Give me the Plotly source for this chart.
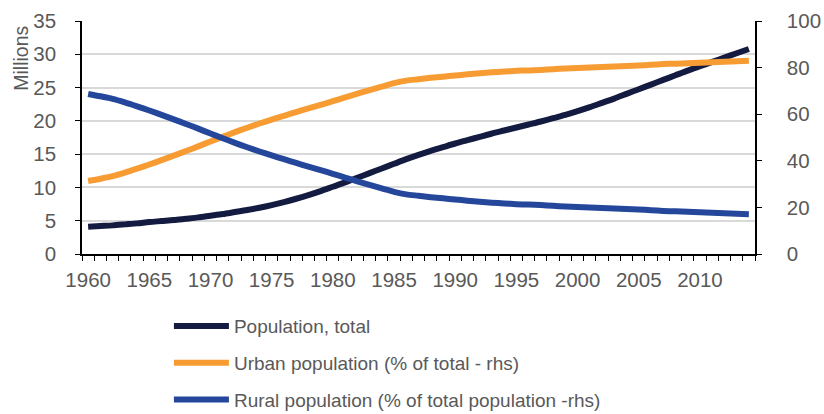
import plotly.graph_objects as go

# Saudi Arabia, 1960-2014
years = list(range(1960, 2015))

population_total_mn = [
    4.1, 4.2, 4.3, 4.45, 4.6, 4.8, 4.95, 5.1, 5.3, 5.5,
    5.75, 6.0, 6.3, 6.6, 6.95, 7.35, 7.8, 8.3, 8.85, 9.45,
    10.1, 10.75, 11.45, 12.15, 12.85, 13.55, 14.25, 14.9, 15.5, 16.05,
    16.6, 17.1, 17.6, 18.1, 18.55, 19.0, 19.45, 19.9, 20.4, 20.9,
    21.45, 22.05, 22.7, 23.35, 24.05, 24.75, 25.45, 26.15, 26.85, 27.55,
    28.2, 28.85, 29.5, 30.15, 30.8,
]

urban_pct = [
    31.3, 32.3, 33.4, 34.9, 36.6, 38.4, 40.3, 42.2, 44.2, 46.2,
    48.3, 50.3, 52.3, 54.2, 56.0, 57.7, 59.3, 60.9, 62.5, 64.0,
    65.6, 67.2, 68.8, 70.3, 71.8, 73.3, 74.4, 75.0, 75.6, 76.1,
    76.6, 77.1, 77.6, 78.0, 78.3, 78.6, 78.8, 79.0, 79.3, 79.6,
    79.8, 80.0, 80.3, 80.5, 80.7, 80.9, 81.2, 81.5, 81.7, 81.9,
    82.1, 82.3, 82.5, 82.7, 82.9,
]

rural_pct = [
    68.7, 67.7, 66.6, 65.1, 63.4, 61.6, 59.7, 57.8, 55.8, 53.8,
    51.7, 49.7, 47.7, 45.8, 44.0, 42.3, 40.7, 39.1, 37.5, 36.0,
    34.4, 32.8, 31.2, 29.7, 28.2, 26.7, 25.6, 25.0, 24.4, 23.9,
    23.4, 22.9, 22.4, 22.0, 21.7, 21.4, 21.2, 21.0, 20.7, 20.4,
    20.2, 20.0, 19.7, 19.5, 19.3, 19.1, 18.8, 18.5, 18.3, 18.1,
    17.9, 17.7, 17.5, 17.3, 17.1,
]

x_tick_years = list(range(1960, 2015, 5))
left_ticks = list(range(0, 36, 5))
right_ticks = list(range(0, 101, 20))

FONT = "Liberation Sans, Arial, sans-serif"
GREY = "#595959"
TICK_SIZE = 20.5
LW = 6

fig = go.Figure()
fig.add_trace(go.Scatter(
    x=years, y=population_total_mn, name="Population, total",
    mode="lines", line=dict(color="#131B40", width=LW, shape="spline", smoothing=0.8),
    legendgroup="a", yaxis="y",
))
fig.add_trace(go.Scatter(
    x=years, y=urban_pct, name="Urban population (% of total - rhs)",
    mode="lines", line=dict(color="#F79C33", width=LW, shape="spline", smoothing=0.8),
    legendgroup="b", yaxis="y2",
))
fig.add_trace(go.Scatter(
    x=years, y=rural_pct, name="Rural population (% of total population -rhs)",
    mode="lines", line=dict(color="#24479B", width=LW, shape="spline", smoothing=0.8),
    legendgroup="c", yaxis="y2",
))

fig.update_layout(
    width=824, height=414,
    margin=dict(l=82, r=69, t=21, b=160, autoexpand=False),
    paper_bgcolor="white", plot_bgcolor="white",
    font=dict(family=FONT, size=19, color=GREY),
    showlegend=True,
    legend=dict(
        xref="container", yref="container",
        x=0.205, y=0.258, xanchor="left", yanchor="top",
        font=dict(family=FONT, size=19, color=GREY),
        tracegroupgap=9, itemwidth=55,
        bgcolor="rgba(0,0,0,0)",
    ),
    xaxis=dict(
        range=[1959.5, 2014.5],
        tickmode="array", tickvals=x_tick_years, tickangle=0,
        ticks="", showgrid=False, zeroline=False,
        showline=True, linecolor="black", linewidth=1.5,
        ticklabelstandoff=7,
        tickfont=dict(family=FONT, size=TICK_SIZE, color=GREY),
        minor=dict(tickmode="linear", tick0=1959.5, dtick=1,
                   ticks="outside", ticklen=5, tickcolor="black",
                   tickwidth=1.3, showgrid=False),
    ),
    yaxis=dict(
        range=[0, 35], tickmode="array", tickvals=left_ticks,
        ticks="outside", ticklen=5, tickcolor="black", tickwidth=1.3,
        showline=True, linecolor="black", linewidth=1.5,
        showgrid=True, gridcolor="#D9D9D9", gridwidth=1.5,
        zeroline=False,
        ticklabelstandoff=15,
        tickfont=dict(family=FONT, size=TICK_SIZE, color=GREY),
    ),
    yaxis2=dict(
        range=[0, 100], tickmode="array", tickvals=right_ticks,
        overlaying="y", side="right",
        ticks="outside", ticklen=5, tickcolor="black", tickwidth=1.3,
        showline=True, linecolor="black", linewidth=1.5,
        showgrid=False, zeroline=False,
        ticklabelstandoff=21,
        tickfont=dict(family=FONT, size=TICK_SIZE, color=GREY),
    ),
    annotations=[dict(
        text="Millions", textangle=-90,
        xref="paper", yref="paper", x=-0.09, y=0.84,
        xanchor="center", yanchor="middle", showarrow=False,
        font=dict(family=FONT, size=19.5, color=GREY),
    )],
)

fig.write_html("out.html")
